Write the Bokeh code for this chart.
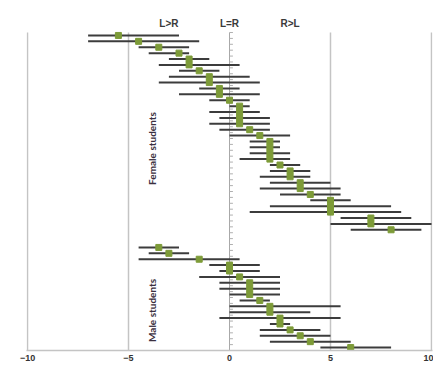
import numpy as np
from bokeh.plotting import figure
from bokeh.models import ColumnDataSource, FixedTicker, Label
from bokeh.embed import file_html
from bokeh.resources import INLINE

# Female students (top to bottom)
female_mean = [-5.5, -4.5, -3.5, -2.5, -2, -2, -1.5, -1, -1, -0.5, -0.5, 0, 0.5, 0.5, 0.5, 0.5, 1, 1.5,
               2, 2, 2, 2, 2.5, 3, 3, 3.5, 3.5, 4, 5, 5, 5, 7, 7, 8]
female_low = [-7, -7, -4.5, -4, -3, -3.5, -2.5, -3, -3.5, -1.5, -2.5, -1, 0, -1, -0.5, -1, -0.5, 0,
              1, 1, 1, 0.5, 2, 2, 1.5, 2, 1.5, 2.5, 4, 2, 1, 5.5, 5, 6]
female_high = [-2.5, -1.5, -2, -2, -1, 0.5, -0.5, 1, 1.5, 0.5, 1.5, 1, 1, 1.5, 2, 2, 2, 3,
               2.5, 2.5, 3, 3, 3.5, 4, 4, 5, 5.5, 5.5, 6, 8, 8.5, 9, 10, 9.5]

# Male students (top to bottom)
male_mean = [-3.5, -3, -1.5, 0, 0, 0.5, 1, 1, 1, 1.5, 2, 2, 2.5, 2.5, 3, 3.5, 4, 6]
male_low = [-4.5, -4, -4.5, -1, -0.5, -1.5, -0.5, -0.5, 0, 0.5, 0, 0, -0.5, 2, 1.5, 1.5, 2, 4.5]
male_high = [-2.5, -2, 0.5, 1.5, 1.5, 2.5, 2.5, 2.5, 2.5, 2, 5.5, 4, 5.5, 3, 4.5, 5, 6, 8]

gap_rows = 2
x_ticks = [-10, -5, 0, 5, 10]
group_labels = ["Female students", "Male students"]
top_labels = ["L>R", "L=R", "R>L"]
top_label_x = [-3, 0, 3]

nf, nm = len(female_mean), len(male_mean)
total = nf + gap_rows + nm
yf = [-i for i in range(nf)]
ym = [-(nf + gap_rows + i) for i in range(nm)]

src = ColumnDataSource(dict(y=yf + ym, m=female_mean + male_mean,
                            lo=female_low + male_low, hi=female_high + male_high))

top_pad = 3.06  # room above rows for the L>R / L=R / R>L labels
y_top = 0.5
y_bot = -(total - 0.5)

p = figure(width=433, height=367, output_backend="svg", toolbar_location=None,
           x_range=(-10.05, 10.05), y_range=(y_bot, y_top + top_pad),
           min_border_left=26, min_border_right=1, min_border_top=14, min_border_bottom=17)
p.outline_line_color = None
p.background_fill_color = "white"
p.border_fill_color = "white"
p.yaxis.visible = False
p.ygrid.visible = False
p.xgrid.visible = False

p.xaxis.ticker = FixedTicker(ticks=x_ticks)
p.xaxis.axis_line_color = "#c4c4c4"
p.xaxis.axis_line_width = 1.5
p.xaxis.major_tick_line_color = None
p.xaxis.minor_tick_line_color = None
p.xaxis.major_tick_out = 0
p.xaxis.major_tick_in = 0
p.xaxis.minor_tick_out = 0
p.xaxis.minor_tick_in = 0
p.xaxis.axis_label_standoff = 0
p.xaxis.major_label_text_font = "Liberation Sans"
p.xaxis.major_label_text_font_style = "bold"
p.xaxis.major_label_text_font_size = "9px"
p.xaxis.major_label_text_color = "#333333"
p.xaxis.major_label_standoff = 4

# vertical gridlines (only over the rows area)
grid_x = [t for t in x_ticks if t != 0]
p.segment(x0=grid_x, x1=grid_x, y0=[y_top] * len(grid_x), y1=[y_bot] * len(grid_x),
          line_color="#c4c4c4", line_width=1.5)

# vertical axis at zero with category tick marks
p.segment(x0=[0], x1=[0], y0=[y_top], y1=[y_bot], line_color="#a8a8a8", line_width=1)
tick_y = [-i + 0.5 for i in range(total + 1)]
p.segment(x0=[0] * len(tick_y), x1=[0.17] * len(tick_y), y0=tick_y, y1=tick_y,
          line_color="#b0b0b0", line_width=1)

# error bars and means
p.segment(x0="lo", x1="hi", y0="y", y1="y", source=src, line_color="#3c3c3c", line_width=2)
p.scatter(x="m", y="y", source=src, marker="square", size=6, fill_color="#7d9b38",
          line_color="#7d9b38")

for t, x in zip(top_labels, top_label_x):
    p.add_layout(Label(x=x, y=y_top + 1.5, text=t, text_align="center", text_baseline="middle",
                       text_font="Liberation Sans", text_font_style="bold",
                       text_font_size="10px", text_color="#3a3a3a"))

group_centers = [-19.2, -46.7]
for t, yc in zip(group_labels, group_centers):
    p.add_layout(Label(x=-3.84, y=yc, text=t, angle=np.pi / 2, text_align="center",
                       text_baseline="middle", text_font="Lato", text_font_style="bold",
                       text_font_size="10px", text_color="#3b3040"))

open("out.html", "w").write(file_html(p, INLINE))
